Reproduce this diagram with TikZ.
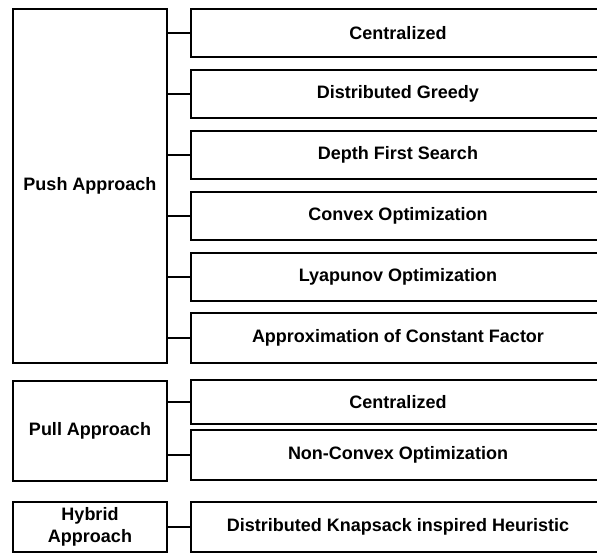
\documentclass[tikz,border=0pt]{standalone}
\usepackage{fontspec}
\setmainfont{Liberation Sans}
\begin{document}
\begin{tikzpicture}[x=1pt,y=-1pt,
  box/.style={draw, line width=1.8pt, inner sep=0pt, rectangle,
    font=\fontsize{18}{22}\selectfont\bfseries, align=center},
  lbox/.style={box, minimum width=154pt},
  rbox/.style={box, minimum width=414pt},
  conn/.style={line width=1.8pt}]
\useasboundingbox (0,0) rectangle (597,553);
\clip (0,0) rectangle (597,553);
% left boxes
\node[lbox, minimum height=354pt] (push) at (90,186) {Push Approach};
\node[lbox, minimum height=100pt] (pull) at (90,431) {Pull Approach};
\node[lbox, minimum height=50pt] (hyb) at (90,527) {Hybrid\\Approach};
% right boxes
\node[rbox, minimum height=48pt] (p1) at (398,33) {Centralized};
\node[rbox, minimum height=48pt] (p2) at (398,94) {Distributed Greedy};
\node[rbox, minimum height=48pt] (p3) at (398,155) {Depth First Search};
\node[rbox, minimum height=48pt] (p4) at (398,216) {Convex Optimization};
\node[rbox, minimum height=48pt] (p5) at (398,277) {Lyapunov Optimization};
\node[rbox, minimum height=50pt] (p6) at (398,338) {Approximation of Constant Factor};
\node[rbox, minimum height=44pt] (q1) at (398,402) {Centralized};
\node[rbox, minimum height=50pt] (q2) at (398,455) {Non-Convex Optimization};
\node[rbox, minimum height=50pt] (h1) at (398,527) {Distributed Knapsack inspired Heuristic};
% connectors
\foreach \n in {p1,p2,p3,p4,p5,p6}
  \draw[conn] (push.east |- \n.west) -- (\n.west);
\foreach \n in {q1,q2}
  \draw[conn] (pull.east |- \n.west) -- (\n.west);
\draw[conn] (hyb.east |- h1.west) -- (h1.west);
\end{tikzpicture}
\end{document}
